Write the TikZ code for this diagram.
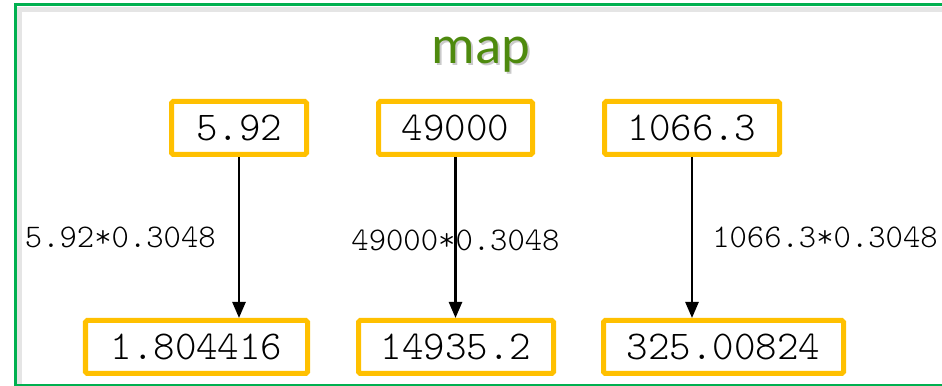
\documentclass[tikz,border=0pt]{standalone}
\usepackage{fontspec}
\setmonofont{lmmonolt10-regular.otf}
\newfontfamily\titlefont{Carlito}
\usetikzlibrary{arrows.meta,positioning}
\definecolor{framegreen}{RGB}{0,176,80}
\definecolor{boxgold}{RGB}{255,192,0}
\definecolor{titlegreen}{RGB}{78,138,14}
\tikzset{
 numbox/.style={draw=boxgold, line width=0.1cm, rounded corners=1pt, minimum height=1.06cm,
   inner sep=0pt, font=\ttfamily\fontsize{23.3}{26}\selectfont},
 fmla/.style={inner sep=0pt, font=\ttfamily\fontsize{18.8}{22}\selectfont},
 flow/.style={-{Triangle[length=0.32cm,width=0.26cm]}, line width=0.05cm}
}

\begin{document}
\begin{tikzpicture}
 \useasboundingbox (0,0) rectangle (18.84,7.72);
 \draw[black!10, line width=0.1cm] (0.38,0) |- (19.2,7.52);
 \draw[framegreen, line width=0.06cm] (0.3,0) rectangle (19.2,7.62);
 \draw (9.66,6.4) node[anchor=base, text=black!35, opacity=.6, font=\titlefont\fontsize{31}{36}\selectfont] (mapshadow) {map};
 \draw (9.62,6.44) node[anchor=base, text=titlegreen, font=\titlefont\fontsize{31}{36}\selectfont] (maptitle) {map};
 \draw (4.78,5.16) node[numbox, minimum width=2.7cm] (feet1) {5.92};
 \draw (9.11,5.16) node[numbox, minimum width=3.08cm] (feet2) {49000};
 \draw (13.84,5.16) node[numbox, minimum width=3.5cm] (feet3) {1066.3};
 \draw (3.93,0.78) node[numbox, minimum width=4.44cm] (metre1) {1.804416};
 \draw (9.12,0.78) node[numbox, minimum width=3.9cm] (metre2) {14935.2};
 \draw (14.47,0.78) node[numbox, minimum width=4.8cm] (metre3) {325.00824};
     \path[flow] (feet1.south) edge node[fmla, left=0.44cm] {5.92*0.3048} (feet1.south |- metre1.north);
     \path[flow] (feet2.south) edge node[fmla, yshift=-0.05cm] {49000*0.3048} (feet2.south |- metre2.north);
     \path[flow] (feet3.south) edge node[fmla, right=0.38cm] {1066.3*0.3048} (feet3.south |- metre3.north);
\end{tikzpicture}
\end{document}
